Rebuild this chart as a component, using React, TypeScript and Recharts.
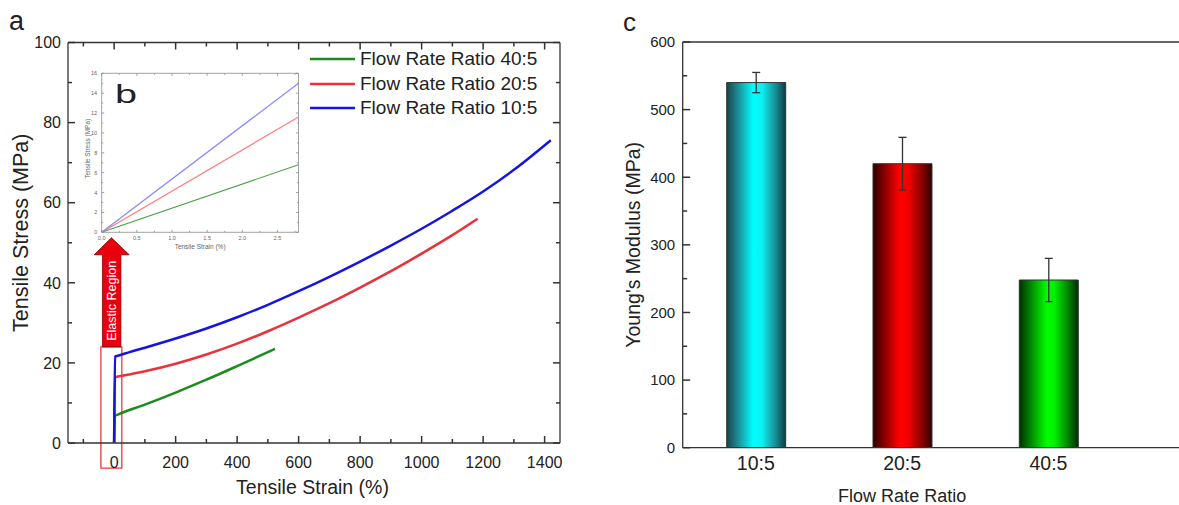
import React from 'react';
import {
  LineChart,
  Line,
  XAxis,
  YAxis,
  Legend,
  ReferenceArea,
  ReferenceLine,
  BarChart,
  Bar,
  Cell,
  ErrorBar,
} from 'recharts';

const FONT = '"Liberation Sans", Arial, Helvetica, sans-serif';
const INK = '#222';
const AXIS = '#333';

// ---------- Panel a : stress-strain curves ----------
const seriesNames = ['Flow Rate Ratio 40:5', 'Flow Rate Ratio 20:5', 'Flow Rate Ratio 10:5'];
const seriesColors = ['#1f8a1f', '#e8323c', '#1515e0'];

const strain40 = [0, 3, 12, 100, 200, 300, 400, 523];
const stress40 = [0, 6.8, 7.1, 9.6, 12.6, 15.8, 19.2, 23.5];

const strain20 = [0, 3, 12, 50, 100, 200, 300, 400, 500, 600, 700, 800, 900, 1000, 1100, 1182];
const stress20 = [0, 16.4, 16.6, 17.1, 17.9, 19.8, 22.1, 24.8, 27.9, 31.3, 34.9, 38.8, 42.9, 47.3, 51.9, 56.0];

const strain10 = [0, 3, 12, 50, 100, 200, 300, 400, 500, 600, 700, 800, 900, 1000, 1100, 1200, 1300, 1420];
const stress10 = [0, 21.6, 21.8, 22.7, 23.8, 26.1, 28.6, 31.4, 34.5, 37.9, 41.5, 45.3, 49.3, 53.5, 58.0, 62.8, 68.2, 75.6];

const strainTicks = [-100, 0, 100, 200, 300, 400, 500, 600, 700, 800, 900, 1000, 1100, 1200, 1300, 1400];
const stressTicks = [0, 10, 20, 30, 40, 50, 60, 70, 80, 90, 100];

// ---------- Panel b : inset (elastic region) ----------
const insetStrain = [0, 2.8];
const insetStress40 = [0, 6.8];
const insetStress20 = [0, 11.6];
const insetStress10 = [0, 15.0];
const insetColors = ['#4aa04a', '#ff7f7f', '#8a8aff'];
const insetStrainTicks = [0, 0.25, 0.5, 0.75, 1, 1.25, 1.5, 1.75, 2, 2.25, 2.5, 2.75];
const insetStressTicks = [0, 1, 2, 3, 4, 5, 6, 7, 8, 9, 10, 11, 12, 13, 14, 15, 16];

// ---------- Panel c : Young's modulus ----------
const ratios = ['10:5', '20:5', '40:5'];
const modulus = [540, 420, 248];
const modulusErr = [15, 39, 32];
const modulusTicks = [0, 50, 100, 150, 200, 250, 300, 350, 400, 450, 500, 550, 600];
const barGradients = ['gradCyan', 'gradRed', 'gradGreen'];

const zip = (xs: number[], ys: number[]) => xs.map((x, i) => ({ x, y: ys[i] }));
const data40 = zip(strain40, stress40);
const data20 = zip(strain20, stress20);
const data10 = zip(strain10, stress10);
const inset40 = zip(insetStrain, insetStress40);
const inset20 = zip(insetStrain, insetStress20);
const inset10 = zip(insetStrain, insetStress10);
const barData = ratios.map((name, i) => ({ x: i + 1, name, value: modulus[i], err: modulusErr[i] }));

// ---------- domains & plot geometry ----------
const A_X: [number, number] = [-150, 1450];
const A_Y: [number, number] = [0, 100];
const A_W = 492;
const A_H = 400.5;
const B_X: [number, number] = [0, 2.8];
const B_Y: [number, number] = [0, 16];
const B_W = 196.8;
const B_H = 159;
const C_X: [number, number] = [0.5, 4.2];
const C_Y: [number, number] = [0, 600];
const C_W = 541.3;
const C_H = 405.7;

const isMult = (step: number) => (v: number) => Math.abs(v / step - Math.round(v / step)) < 1e-6;

// inward tick marks, drawn as short reference segments
type Seg = { key: string; segment: { x: number; y: number }[] };
const frameTicks = (
  xTicks: number[],
  yTicks: number[],
  xd: [number, number],
  yd: [number, number],
  w: number,
  h: number,
  xMaj: (v: number) => boolean,
  yMaj: (v: number) => boolean,
  majPx: number,
  minPx: number,
  sides: { top: boolean; bottom: boolean; left: boolean; right: boolean }
): Seg[] => {
  const ux = (xd[1] - xd[0]) / w;
  const uy = (yd[1] - yd[0]) / h;
  const out: Seg[] = [];
  xTicks.forEach((v) => {
    const l = (xMaj(v) ? majPx : minPx) * uy;
    if (sides.bottom) out.push({ key: `b${v}`, segment: [{ x: v, y: yd[0] }, { x: v, y: yd[0] + l }] });
    if (sides.top) out.push({ key: `t${v}`, segment: [{ x: v, y: yd[1] }, { x: v, y: yd[1] - l }] });
  });
  yTicks.forEach((v) => {
    const l = (yMaj(v) ? majPx : minPx) * ux;
    if (sides.left) out.push({ key: `l${v}`, segment: [{ x: xd[0], y: v }, { x: xd[0] + l, y: v }] });
    if (sides.right) out.push({ key: `r${v}`, segment: [{ x: xd[1], y: v }, { x: xd[1] - l, y: v }] });
  });
  return out;
};

const ALL = { top: true, bottom: true, left: true, right: true };
const aSegs = frameTicks(strainTicks, stressTicks, A_X, A_Y, A_W, A_H, isMult(200), isMult(20), 7, 4, ALL);
const bSegs = frameTicks(insetStrainTicks, insetStressTicks, B_X, B_Y, B_W, B_H, isMult(0.5), isMult(2), 2.5, 1.5, ALL);
const cSegs = frameTicks([], modulusTicks, C_X, C_Y, C_W, C_H, () => true, isMult(100), 7.5, 4.5, {
  top: false,
  bottom: false,
  left: true,
  right: false,
});

// tick label renderers
const bottomLabel = (fmt: (v: number) => string, fs: number, gap: number, fill = INK, show: (v: number) => boolean = () => true) => (
  props: any
) => {
  const { x, y, payload } = props;
  const v = payload.value as number;
  if (!show(v)) return <g />;
  return (
    <text x={x} y={y + gap} textAnchor="middle" fontSize={fs} fill={fill}>
      {fmt(v)}
    </text>
  );
};
const leftLabel = (fmt: (v: number) => string, fs: number, gap: number, fill = INK, show: (v: number) => boolean = () => true) => (
  props: any
) => {
  const { x, y, payload } = props;
  const v = payload.value as number;
  if (!show(v)) return <g />;
  return (
    <text x={x - gap} y={y} dy="0.36em" textAnchor="end" fontSize={fs} fill={fill}>
      {fmt(v)}
    </text>
  );
};

const aBottomTick = bottomLabel((v) => String(v), 16, 25, INK, isMult(200));
const aLeftTick = leftLabel((v) => String(v), 16, 7, INK, isMult(20));
const bBottomTick = bottomLabel((v) => v.toFixed(1), 5.5, 7.5, '#666', isMult(0.5));
const bLeftTick = leftLabel((v) => String(v), 5.5, 4.5, '#666', isMult(2));
const cLeftTick = leftLabel((v) => String(v), 15, 7.5, INK, isMult(100));
const cBottomTick = bottomLabel((v) => ratios[Math.round(v) - 1] || '', 19.5, 22.5);

const vbOf = (p: any, fb: any) => (p && p.viewBox ? p.viewBox : fb);

const ElasticArrow = (props: any) => {
  const { x, y, width: w, height: h } = props;
  if (x == null || y == null) return null;
  const hb = y + h * 0.156;
  const pts = [
    [x + w * 0.494, y],
    [x + w, hb],
    [x + w * 0.763, hb],
    [x + w * 0.763, y + h],
    [x + w * 0.237, y + h],
    [x + w * 0.237, hb],
    [x, hb],
  ]
    .map((p) => p.join(','))
    .join(' ');
  const cx = x + w * 0.5;
  const cy = (hb + y + h) / 2;
  return (
    <g>
      <polygon points={pts} fill="#e8000e" stroke="#8a0000" strokeWidth={0.8} />
      <text x={cx} y={cy} dy="0.35em" textAnchor="middle" fontSize={12.5} fill="#ffffff" transform={`rotate(-90 ${cx} ${cy})`}>
        Elastic Region
      </text>
    </g>
  );
};

const renderLegend = (props: any) => {
  const payload = [...((props && props.payload) || [])].sort(
    (a: any, b: any) => seriesNames.indexOf(a.value) - seriesNames.indexOf(b.value)
  );
  return (
    <div style={{ fontFamily: FONT, fontSize: 19, color: INK }}>
      {payload.map((e: any, i: number) => (
        <div key={i} style={{ display: 'flex', alignItems: 'center', height: 24.5, whiteSpace: 'nowrap' }}>
          <svg width={50} height={6} style={{ display: 'block' }}>
            <line x1={0} y1={3} x2={45} y2={3} stroke={e.color} strokeWidth={2.5} />
          </svg>
          <span>{e.value}</span>
        </div>
      ))}
    </div>
  );
};

export default function App() {
  const axisLine = { stroke: AXIS, strokeWidth: 1.3 };
  const insetAxisLine = { stroke: '#8a8a8a', strokeWidth: 0.8 };
  return (
    <div
      style={{
        position: 'absolute',
        left: 0,
        top: 0,
        width: 1179,
        height: 505,
        overflow: 'hidden',
        background: '#ffffff',
        fontFamily: FONT,
        color: INK,
      }}
    >
      {/* Panel a */}
      <div style={{ position: 'absolute', left: 0, top: 0 }}>
        <LineChart width={600} height={505} margin={{ top: 41.5, right: 39, bottom: 0, left: 0 }}>
          <XAxis
            xAxisId={0}
            type="number"
            dataKey="x"
            domain={A_X}
            allowDataOverflow
            ticks={strainTicks}
            interval={0}
            tickSize={0}
            tickMargin={0}
            tickLine={false}
            height={62}
            axisLine={axisLine}
            tick={aBottomTick}
            label={(p: any) => {
              const vb = vbOf(p, { x: 68, y: 443, width: 492, height: 62 });
              return (
                <text x={vb.x + vb.width / 2 - 1.5} y={vb.y + 51} textAnchor="middle" fontSize={19.5} fill={INK}>
                  Tensile Strain (%)
                </text>
              );
            }}
          />
          <XAxis xAxisId="top" orientation="top" type="number" dataKey="x" domain={A_X} allowDataOverflow tick={false} tickLine={false} height={1} axisLine={axisLine} />
          <YAxis
            yAxisId={0}
            type="number"
            domain={A_Y}
            allowDataOverflow
            ticks={stressTicks}
            interval={0}
            tickSize={0}
            tickMargin={0}
            tickLine={false}
            width={68}
            axisLine={axisLine}
            tick={aLeftTick}
            label={(p: any) => {
              const vb = vbOf(p, { x: 0, y: 42.5, width: 68, height: 400.5 });
              const cx = 20;
              const cy = vb.y + vb.height / 2 - 10;
              return (
                <text x={cx} y={cy} dy="0.35em" textAnchor="middle" fontSize={21.5} fill={INK} transform={`rotate(-90 ${cx} ${cy})`}>
                  Tensile Stress (MPa)
                </text>
              );
            }}
          />
          <YAxis yAxisId="right" orientation="right" type="number" domain={A_Y} allowDataOverflow tick={false} tickLine={false} width={1} axisLine={axisLine} />
          {aSegs.map((s) => (
            <ReferenceLine key={s.key} segment={s.segment} stroke={AXIS} strokeWidth={1.5} ifOverflow="visible" />
          ))}
          <ReferenceArea x1={-43} x2={25} y1={-6.25} y2={24} ifOverflow="visible" fill="none" fillOpacity={0} stroke="#e8383d" strokeWidth={1.3} />
          <ReferenceArea x1={-65} x2={49} y1={24} y2={51.25} ifOverflow="visible" shape={ElasticArrow} />
          <Line data={data40} dataKey="y" name={seriesNames[0]} type="monotone" stroke={seriesColors[0]} strokeWidth={2.5} dot={false} activeDot={false} isAnimationActive={false} />
          <Line data={data20} dataKey="y" name={seriesNames[1]} type="monotone" stroke={seriesColors[1]} strokeWidth={2.5} dot={false} activeDot={false} isAnimationActive={false} />
          <Line data={data10} dataKey="y" name={seriesNames[2]} type="monotone" stroke={seriesColors[2]} strokeWidth={2.5} dot={false} activeDot={false} isAnimationActive={false} />
          <Legend
            layout="vertical"
            align="center"
            verticalAlign="middle"
            content={renderLegend}
            wrapperStyle={{ position: 'absolute', left: 310, top: 47, width: 250, height: 74 }}
          />
        </LineChart>
      </div>

      {/* Panel b : inset */}
      <div style={{ position: 'absolute', left: 78, top: 64 }}>
        <LineChart width={226} height={190} margin={{ top: 8.3, right: 4.5, bottom: 0, left: 0 }}>
          <XAxis
            xAxisId={0}
            type="number"
            dataKey="x"
            domain={B_X}
            allowDataOverflow
            ticks={insetStrainTicks}
            interval={0}
            tickSize={0}
            tickMargin={0}
            tickLine={false}
            height={21.7}
            axisLine={insetAxisLine}
            tick={bBottomTick}
            label={(p: any) => {
              const vb = vbOf(p, { x: 23.7, y: 168.3, width: 196.8, height: 21.7 });
              return (
                <text x={vb.x + vb.width / 2} y={vb.y + 17} textAnchor="middle" fontSize={6.5} fill="#666">
                  Tensile Strain (%)
                </text>
              );
            }}
          />
          <XAxis xAxisId="top" orientation="top" type="number" dataKey="x" domain={B_X} allowDataOverflow tick={false} tickLine={false} height={1} axisLine={insetAxisLine} />
          <YAxis
            yAxisId={0}
            type="number"
            domain={B_Y}
            allowDataOverflow
            ticks={insetStressTicks}
            interval={0}
            tickSize={0}
            tickMargin={0}
            tickLine={false}
            width={23.7}
            axisLine={insetAxisLine}
            tick={bLeftTick}
            label={(p: any) => {
              const vb = vbOf(p, { x: 0, y: 9.3, width: 23.7, height: 159 });
              const cx = vb.x + 10;
              const cy = vb.y + vb.height / 2 - 4;
              return (
                <text x={cx} y={cy} dy="0.35em" textAnchor="middle" fontSize={6.5} fill="#666" transform={`rotate(-90 ${cx} ${cy})`}>
                  Tensile Stress (MPa)
                </text>
              );
            }}
          />
          <YAxis yAxisId="right" orientation="right" type="number" domain={B_Y} allowDataOverflow tick={false} tickLine={false} width={1} axisLine={insetAxisLine} />
          {bSegs.map((s) => (
            <ReferenceLine key={s.key} segment={s.segment} stroke="#8a8a8a" strokeWidth={0.8} ifOverflow="visible" />
          ))}
          <Line data={inset40} dataKey="y" name={seriesNames[0]} type="linear" stroke={insetColors[0]} strokeWidth={1.1} dot={false} activeDot={false} isAnimationActive={false} />
          <Line data={inset20} dataKey="y" name={seriesNames[1]} type="linear" stroke={insetColors[1]} strokeWidth={1.3} dot={false} activeDot={false} isAnimationActive={false} />
          <Line data={inset10} dataKey="y" name={seriesNames[2]} type="linear" stroke={insetColors[2]} strokeWidth={1.3} dot={false} activeDot={false} isAnimationActive={false} />
        </LineChart>
      </div>

      {/* Panel c */}
      <div style={{ position: 'absolute', left: 600, top: 0 }}>
        <BarChart width={624} height={505} data={barData} margin={{ top: 41, right: 0, bottom: 0, left: 0 }}>
          <defs>
            <linearGradient id="gradCyan" x1="0" y1="0" x2="1" y2="0">
              <stop offset="0" stopColor="#14454b" />
              <stop offset="0.18" stopColor="#1f8890" />
              <stop offset="0.45" stopColor="#00ffff" />
              <stop offset="0.6" stopColor="#0ef0f2" />
              <stop offset="0.85" stopColor="#17838b" />
              <stop offset="1" stopColor="#0e3a40" />
            </linearGradient>
            <linearGradient id="gradRed" x1="0" y1="0" x2="1" y2="0">
              <stop offset="0" stopColor="#2e0000" />
              <stop offset="0.2" stopColor="#8a0000" />
              <stop offset="0.45" stopColor="#ff0000" />
              <stop offset="0.6" stopColor="#f20000" />
              <stop offset="0.85" stopColor="#800000" />
              <stop offset="1" stopColor="#2a0000" />
            </linearGradient>
            <linearGradient id="gradGreen" x1="0" y1="0" x2="1" y2="0">
              <stop offset="0" stopColor="#003000" />
              <stop offset="0.2" stopColor="#008a00" />
              <stop offset="0.47" stopColor="#00ff00" />
              <stop offset="0.6" stopColor="#00ee00" />
              <stop offset="0.85" stopColor="#007800" />
              <stop offset="1" stopColor="#002c00" />
            </linearGradient>
          </defs>
          <XAxis
            xAxisId={0}
            type="number"
            dataKey="x"
            domain={C_X}
            allowDataOverflow
            ticks={[1, 2, 3]}
            interval={0}
            tickSize={0}
            tickMargin={0}
            tickLine={false}
            height={57.3}
            axisLine={axisLine}
            tick={cBottomTick}
            label={(p: any) => {
              const vb = vbOf(p, { x: 82.7, y: 447.7, width: 541.3, height: 57.3 });
              const cx = vb.x + ((2 - C_X[0]) / (C_X[1] - C_X[0])) * vb.width;
              return (
                <text x={cx} y={vb.y + 54} textAnchor="middle" fontSize={18} fill={INK}>
                  Flow Rate Ratio
                </text>
              );
            }}
          />
          <XAxis xAxisId="top" orientation="top" type="number" dataKey="x" domain={C_X} allowDataOverflow tick={false} tickLine={false} height={1} axisLine={axisLine} />
          <YAxis
            type="number"
            domain={C_Y}
            allowDataOverflow
            ticks={modulusTicks}
            interval={0}
            tickSize={0}
            tickMargin={0}
            tickLine={false}
            width={82.7}
            axisLine={axisLine}
            tick={cLeftTick}
            label={(p: any) => {
              const vb = vbOf(p, { x: 0, y: 42, width: 82.7, height: 405.7 });
              const cx = vb.x + 33;
              const cy = vb.y + vb.height / 2;
              return (
                <text x={cx} y={cy} dy="0.35em" textAnchor="middle" fontSize={19.5} fill={INK} transform={`rotate(-90 ${cx} ${cy})`}>
                  Young's Modulus (MPa)
                </text>
              );
            }}
          />
          {cSegs.map((s) => (
            <ReferenceLine key={s.key} segment={s.segment} stroke={AXIS} strokeWidth={1.5} ifOverflow="visible" />
          ))}
          <Bar dataKey="value" barSize={59} stroke="#333" strokeWidth={1} isAnimationActive={false}>
            {barData.map((d, i) => (
              <Cell key={d.name} fill={`url(#${barGradients[i]})`} />
            ))}
            <ErrorBar dataKey="err" width={4} stroke="#333" strokeWidth={1.3} direction="y" isAnimationActive={false} />
          </Bar>
        </BarChart>
      </div>

      {/* Panel letters */}
      <svg width={1179} height={505} style={{ position: 'absolute', left: 0, top: 0, pointerEvents: 'none' }}>
        <text x={9} y={30} fontSize={27} fill={INK} fontFamily={FONT}>
          a
        </text>
        <text x={115} y={103} fontSize={26} fill={INK} fontFamily={FONT} textLength={22} lengthAdjust="spacingAndGlyphs">
          b
        </text>
        <text x={623} y={31} fontSize={26} fill={INK} fontFamily={FONT}>
          c
        </text>
      </svg>
    </div>
  );
}
